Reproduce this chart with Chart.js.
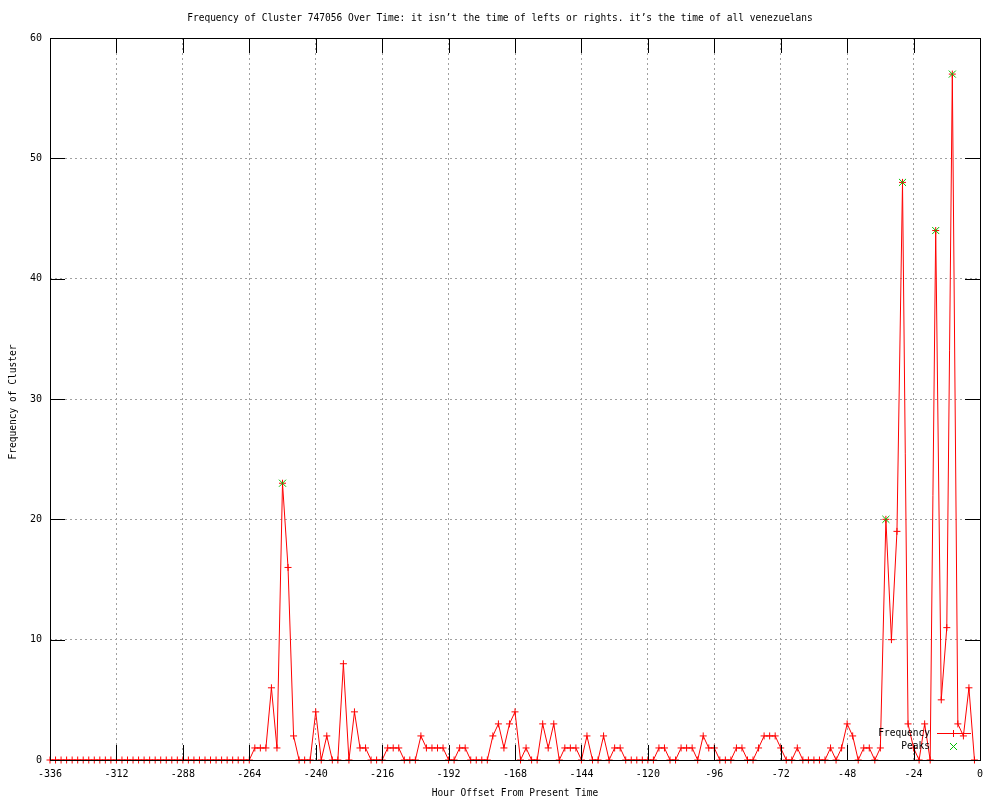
<!DOCTYPE html>
<html>
<head>
<meta charset="utf-8">
<script src="https://cdn.jsdelivr.net/npm/chart.js@4.4.1/dist/chart.umd.min.js"></script>
<style>
	html, body { margin: 0; padding: 0; background: #fff; }
	canvas { display: block; }
</style>
</head>
<body>
<canvas id="chart" width="1000" height="800"></canvas>
<script>
// hours before now, one sample every 2 hours
const hours = [
	-336, -334, -332, -330, -328, -326, -324, -322, -320, -318, -316, -314,
	-312, -310, -308, -306, -304, -302, -300, -298, -296, -294, -292, -290,
	-288, -286, -284, -282, -280, -278, -276, -274, -272, -270, -268, -266,
	-264, -262, -260, -258, -256, -254, -252, -250, -248, -246, -244, -242,
	-240, -238, -236, -234, -232, -230, -228, -226, -224, -222, -220, -218,
	-216, -214, -212, -210, -208, -206, -204, -202, -200, -198, -196, -194,
	-192, -190, -188, -186, -184, -182, -180, -178, -176, -174, -172, -170,
	-168, -166, -164, -162, -160, -158, -156, -154, -152, -150, -148, -146,
	-144, -142, -140, -138, -136, -134, -132, -130, -128, -126, -124, -122,
	-120, -118, -116, -114, -112, -110, -108, -106, -104, -102, -100, -98,
	-96, -94, -92, -90, -88, -86, -84, -82, -80, -78, -76, -74,
	-72, -70, -68, -66, -64, -62, -60, -58, -56, -54, -52, -50,
	-48, -46, -44, -42, -40, -38, -36, -34, -32, -30, -28, -26,
	-24, -22, -20, -18, -16, -14, -12, -10, -8, -6, -4, -2
];

const frequency = [
	0, 0, 0, 0, 0, 0, 0, 0, 0, 0, 0, 0,
	0, 0, 0, 0, 0, 0, 0, 0, 0, 0, 0, 0,
	0, 0, 0, 0, 0, 0, 0, 0, 0, 0, 0, 0,
	0, 1, 1, 1, 6, 1, 23, 16, 2, 0, 0, 0,
	4, 0, 2, 0, 0, 8, 0, 4, 1, 1, 0, 0,
	0, 1, 1, 1, 0, 0, 0, 2, 1, 1, 1, 1,
	0, 0, 1, 1, 0, 0, 0, 0, 2, 3, 1, 3,
	4, 0, 1, 0, 0, 3, 1, 3, 0, 1, 1, 1,
	0, 2, 0, 0, 2, 0, 1, 1, 0, 0, 0, 0,
	0, 0, 1, 1, 0, 0, 1, 1, 1, 0, 2, 1,
	1, 0, 0, 0, 1, 1, 0, 0, 1, 2, 2, 2,
	1, 0, 0, 1, 0, 0, 0, 0, 0, 1, 0, 1,
	3, 2, 0, 1, 1, 0, 1, 20, 10, 19, 48, 3,
	1, 0, 3, 0, 44, 5, 11, 57, 3, 2, 6, 0
];

const peakHours = [-252, -34, -28, -16, -10];
const peakValues = [23, 20, 48, 44, 57];

const titleText = "Frequency of Cluster 747056 Over Time: it isn\u2019t the time of lefts or rights. it\u2019s the time of all venezuelans";
const xTitle = "Hour Offset From Present Time";
const yTitle = "Frequency of Cluster";

const FAMILY = '"DejaVu Sans Mono", monospace';
const RED = "#ff0000";
const GREEN = "#00c000";
const CHAR_W = 5.74; // gnuplot's bitmap font advance

// narrow, tall text like the gnuplot png font
function gnuText(ctx, text, x, y, align, angle) {
	ctx.save();
	ctx.font = "11px " + FAMILY;
	ctx.fillStyle = "#000";
	ctx.textBaseline = "middle";
	ctx.textAlign = align;
	const sx = (text.length * CHAR_W) / ctx.measureText(text).width;
	ctx.translate(x, y);
	if (angle) ctx.rotate(angle);
	ctx.scale(sx, 1);
	ctx.fillText(text, 0, 0);
	ctx.restore();
}

// border, inward tics, titles and key
const gnuFrame = {
	id: "gnuFrame",
	afterDatasetsDraw(chart) {
		const {ctx, chartArea, scales} = chart;
		const {left, right, top, bottom} = chartArea;
		const tic = 15;
		ctx.save();
		ctx.strokeStyle = "#000";
		ctx.lineWidth = 1;
		ctx.beginPath();
		scales.x.ticks.forEach(t => {
			if (t.value <= -336 || t.value >= 0) return;
			const px = Math.round(scales.x.getPixelForValue(t.value)) + 0.5;
			ctx.moveTo(px, bottom); ctx.lineTo(px, bottom - tic);
			ctx.moveTo(px, top); ctx.lineTo(px, top + tic);
		});
		scales.y.ticks.forEach(t => {
			if (t.value <= 0 || t.value >= 60) return;
			const py = Math.round(scales.y.getPixelForValue(t.value)) + 0.5;
			ctx.moveTo(left, py); ctx.lineTo(left + tic, py);
			ctx.moveTo(right, py); ctx.lineTo(right - tic, py);
		});
		ctx.stroke();
		ctx.strokeRect(Math.round(left) + 0.5, Math.round(top) + 0.5, Math.round(right - left), Math.round(bottom - top));
		ctx.restore();
	},
	afterDraw(chart) {
		const {ctx, chartArea} = chart;
		gnuText(ctx, titleText, 500, 18, "center");
		gnuText(ctx, xTitle, (chartArea.left + chartArea.right) / 2, 793, "center");
		gnuText(ctx, yTitle, 13, 402, "center", -Math.PI / 2);

		// key
		gnuText(ctx, "Frequency", 930, 733, "right");
		gnuText(ctx, "Peaks", 930, 746, "right");
		ctx.save();
		ctx.fillStyle = RED;
		ctx.fillRect(937, 733, 34, 1);
		ctx.fillRect(953, 730, 1, 7);
		ctx.fillStyle = GREEN;
		for (let i = -3; i <= 3; i++) {
			ctx.fillRect(953 + i, 746 + i, 1, 1);
			ctx.fillRect(953 + i, 746 - i, 1, 1);
		}
		ctx.restore();
	}
};

const ctx = document.getElementById("chart").getContext("2d");

new Chart(ctx, {
	type: "line",
	data: {
		datasets: [
			{
				label: "Peaks",
				data: peakHours.map((h, i) => ({x: h, y: peakValues[i]})),
				showLine: false,
				pointStyle: "crossRot",
				pointRadius: 5,
				pointBorderWidth: 1,
				pointBorderColor: GREEN,
				pointBackgroundColor: GREEN,
				borderColor: GREEN,
				clip: false
			},
			{
				label: "Frequency",
				data: hours.map((h, i) => ({x: h, y: frequency[i]})),
				borderColor: RED,
				borderWidth: 1,
				tension: 0,
				fill: false,
				pointStyle: "cross",
				pointRadius: 3.5,
				pointBorderWidth: 1,
				pointBorderColor: RED,
				pointBackgroundColor: RED,
				clip: false
			}
		]
	},
	options: {
		responsive: false,
		animation: false,
		events: [],
		layout: {
			padding: {left: 0, top: 38, right: 20, bottom: 0}
		},
		plugins: {
			legend: {display: false},
			title: {display: false},
			tooltip: {enabled: false}
		},
		scales: {
			x: {
				type: "linear",
				min: -336,
				max: 0,
				afterFit: s => { s.height = 40; },
				grid: {
					color: "#a0a0a0",
					drawTicks: false,
					lineWidth: 1
				},
				border: {display: false, dash: [2, 3]},
				ticks: {
					stepSize: 24,
					color: "#000",
					font: {family: FAMILY, size: 10},
					padding: 8,
					maxRotation: 0,
					autoSkip: false
				}
			},
			y: {
				min: 0,
				max: 60,
				afterFit: s => { s.width = 50; },
				grid: {
					color: "#a0a0a0",
					drawTicks: false,
					lineWidth: 1
				},
				border: {display: false, dash: [2, 3]},
				ticks: {
					stepSize: 10,
					color: "#000",
					font: {family: FAMILY, size: 10},
					padding: 8
				}
			}
		}
	},
	plugins: [gnuFrame]
});
</script>
</body>
</html>
